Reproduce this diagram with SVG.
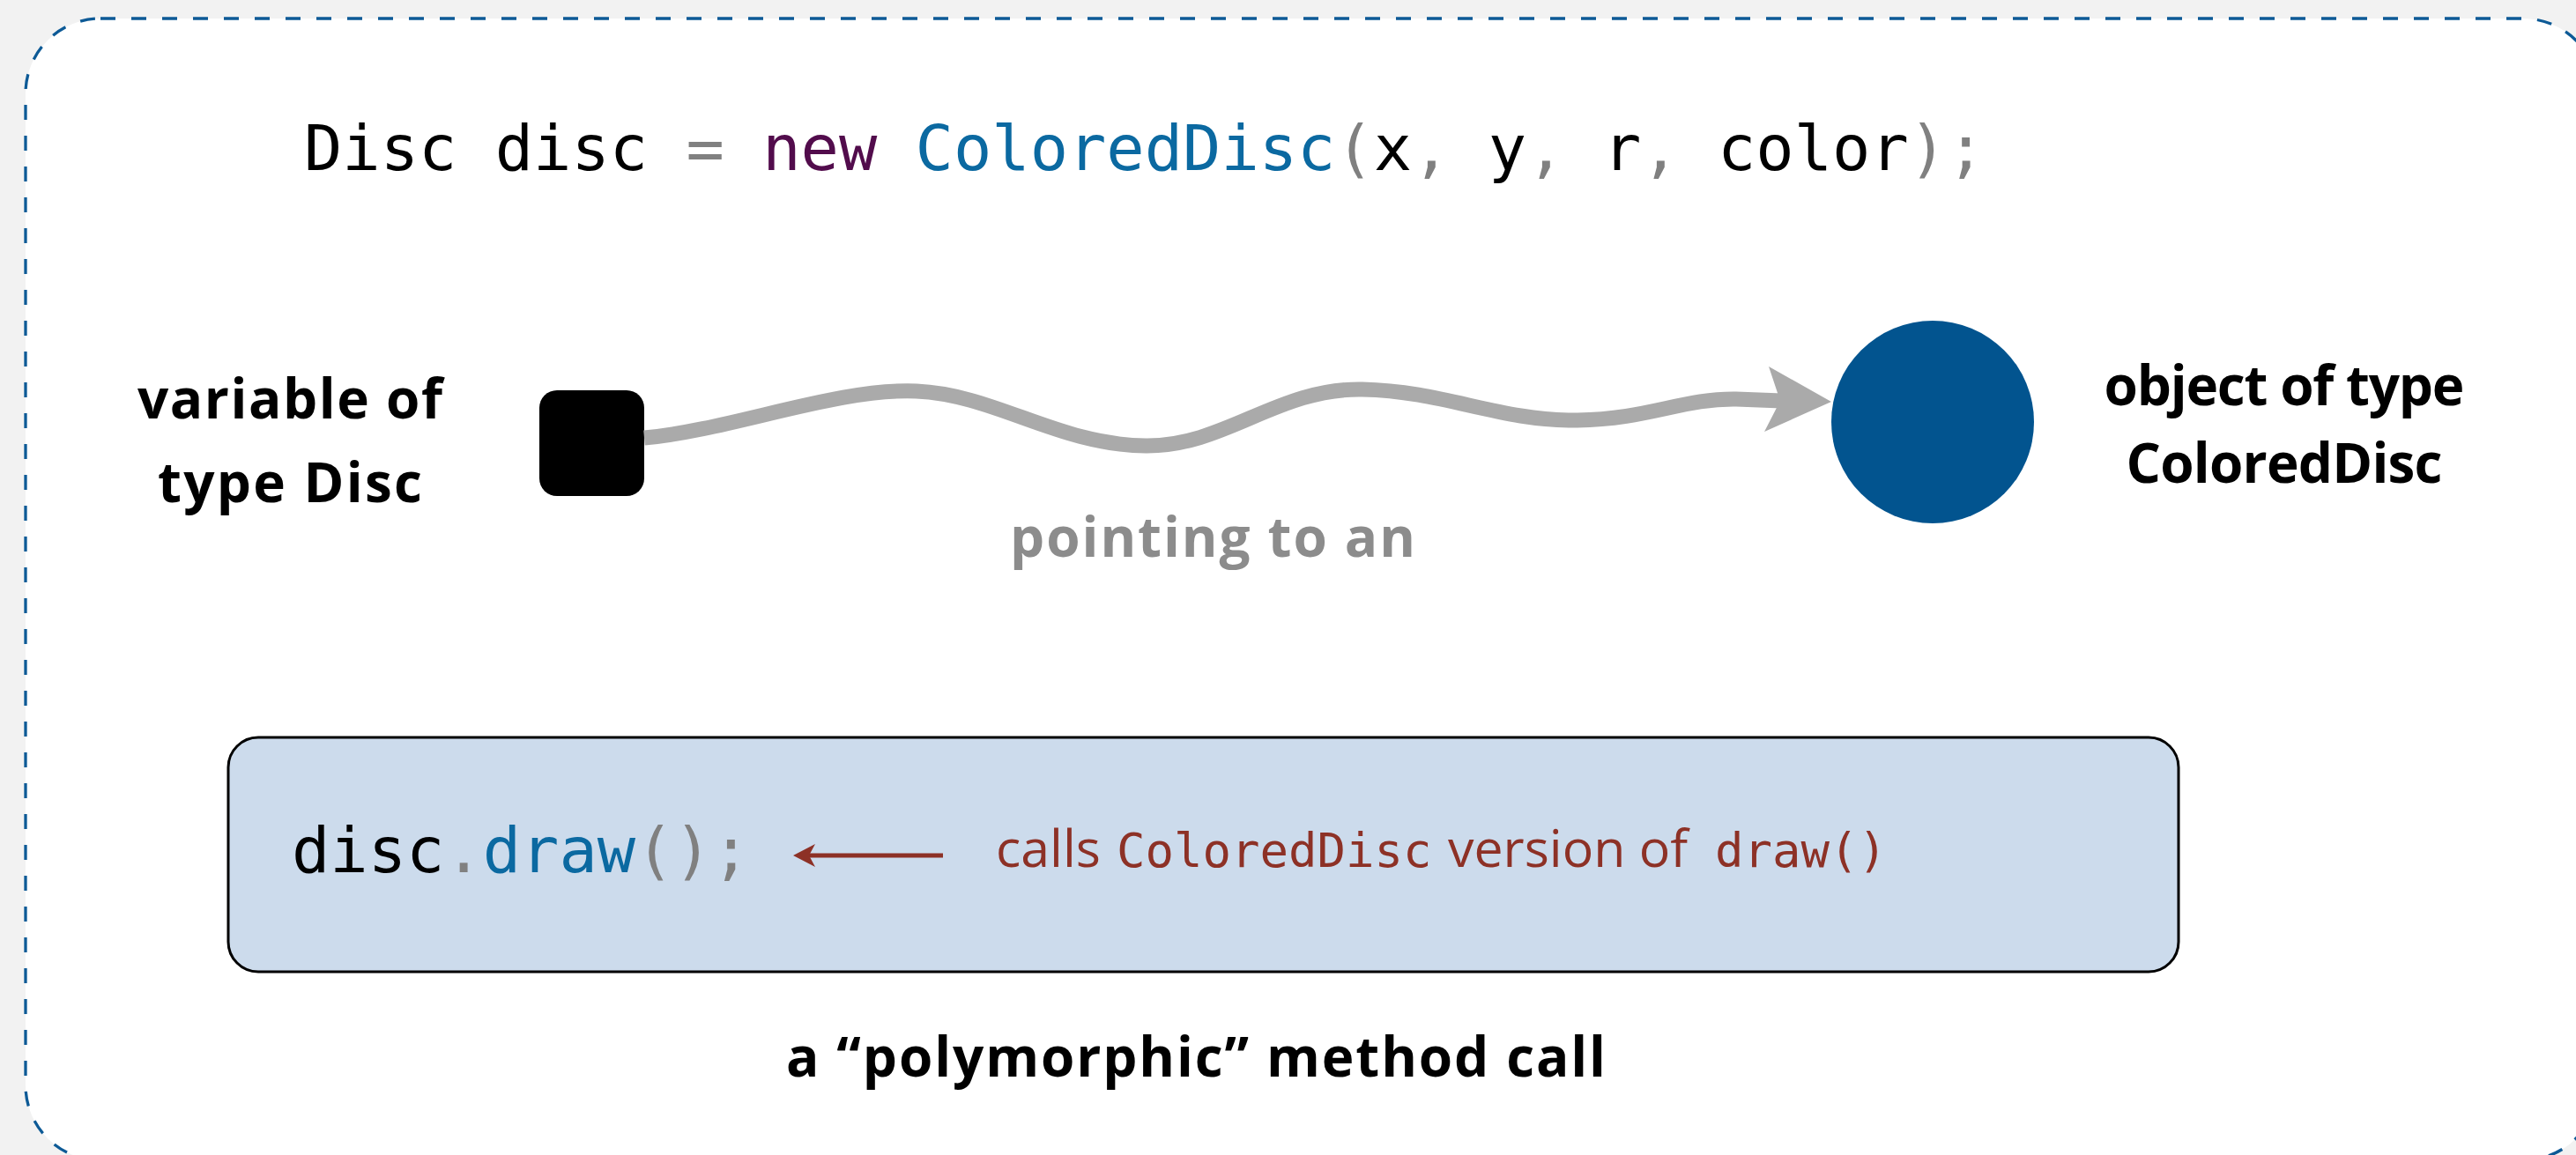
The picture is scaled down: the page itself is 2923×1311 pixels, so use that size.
<svg xmlns="http://www.w3.org/2000/svg" width="2923" height="1311" viewBox="0 0 2923 1311">
<style>
.code{font-family:"DejaVu Sans Mono","Liberation Mono",monospace;font-size:72px}
.k{fill:#000}
.p{fill:#808080}
.kw{fill:#520c4c}
.id{fill:#0b69a1}
.lbl{font-family:"Open Sans","DejaVu Sans",sans-serif;font-weight:700;font-size:62px;fill:#000}
.note{fill:#8d3126}
.ns{font-family:"Open Sans","DejaVu Sans",sans-serif;font-size:59px}
.nm{font-family:"DejaVu Sans Mono","Liberation Mono",monospace;font-size:54px}
</style>
<defs/>
<rect x="0" y="0" width="2923" height="1311" fill="#f2f2f2"/>
<rect id="frame" x="29" y="21" width="2919" height="1296" rx="85" ry="85" fill="#ffffff" stroke="#0d5a96" stroke-width="3.3" stroke-dasharray="17 18"/>

<g id="declaration">
<text class="code" x="345" y="193" xml:space="preserve"><tspan class="k">Disc disc </tspan><tspan class="p">=</tspan><tspan class="k"> </tspan><tspan class="kw">new</tspan><tspan class="k"> </tspan><tspan class="id">ColoredDisc</tspan><tspan class="p">(</tspan><tspan class="k">x</tspan><tspan class="p">,</tspan><tspan class="k"> y</tspan><tspan class="p">,</tspan><tspan class="k"> r</tspan><tspan class="p">,</tspan><tspan class="k"> color</tspan><tspan class="p">);</tspan></text>
</g>

<g id="variable">
<rect x="612" y="443" width="119" height="120" rx="20" ry="20" fill="#000"/>
<text class="lbl" x="329" y="475" text-anchor="middle" textLength="346" lengthAdjust="spacing">variable of</text>
<text class="lbl" x="329" y="570" text-anchor="middle" textLength="300" lengthAdjust="spacing">type Disc</text>
</g>

<g id="object">
<circle cx="2193" cy="479" r="115" fill="#02548f"/>
<text class="lbl" x="2592" y="460" text-anchor="middle" textLength="409" lengthAdjust="spacing">object of type</text>
<text class="lbl" x="2592" y="548" text-anchor="middle" textLength="359" lengthAdjust="spacing">ColoredDisc</text>
</g>

<g id="connectors">
<path d="M 731 497 C 830 488, 950 440, 1040 444 C 1130 448, 1200 505, 1300 506 C 1390 507, 1450 440, 1546 442 C 1640 444, 1700 478, 1790 477 C 1870 476, 1910 452, 1970 453 L 2022 455" fill="none" stroke="#aaaaaa" stroke-width="17"/>
<polygon points="2078,456 2007,416 2020,455 2002,490" fill="#aaaaaa"/>
<text class="lbl" x="1376" y="632" text-anchor="middle" textLength="460" lengthAdjust="spacing" style="fill:#8c8c8c">pointing to an</text>
</g>

<g id="call">
<rect x="259" y="837" width="2213" height="266" rx="34" ry="34" fill="#ccdbec" stroke="#000" stroke-width="3"/>
<text class="code" x="331" y="990"><tspan class="k">disc</tspan><tspan class="p">.</tspan><tspan class="id">draw</tspan><tspan class="p">();</tspan></text>
<line x1="1070" y1="971" x2="916" y2="971" stroke="#8d3126" stroke-width="5"/>
<polygon points="900,971 925,958 918,971 925,984" fill="#8d3126"/>
<text class="note" y="984"><tspan class="ns" x="1130">calls</tspan><tspan class="nm" x="1267">ColoredDisc</tspan><tspan class="ns" x="1643">version of</tspan><tspan class="nm" x="1946">draw()</tspan></text>
</g>

<g id="caption">
<text class="lbl" x="1357" y="1222" text-anchor="middle" textLength="930" lengthAdjust="spacing">a “polymorphic” method call</text>
</g>
</svg>
